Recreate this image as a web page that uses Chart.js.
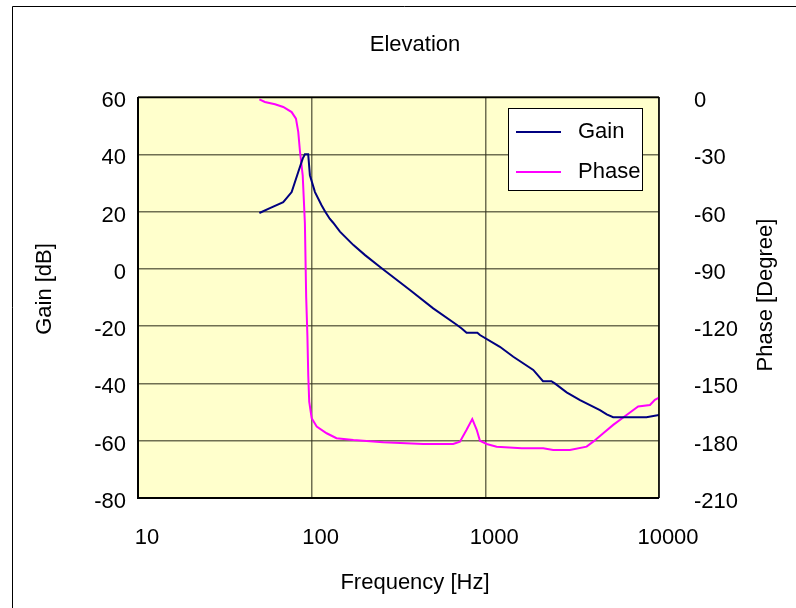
<!DOCTYPE html>
<html>
<head>
<meta charset="utf-8">
<title>Elevation</title>
<script src="https://cdn.jsdelivr.net/npm/chart.js@4.4.1/dist/chart.umd.min.js"></script>
<style>
  body { margin: 0; background: #fff; }
  canvas { display: block; }
</style>
</head>
<body>
<canvas id="myChart" width="796" height="608"></canvas>
<script>
// values
const gainFreq = [50, 57.5, 68.6, 76.7, 83.7, 88.8, 91.4, 95.5, 97.7, 104.5,
  114, 119.5, 127, 133, 145.5, 174, 203, 253, 368, 501,
  684, 731, 780, 900, 931, 1213, 1449, 1888, 2148, 2400,
  2512, 2938, 3510, 4570, 5000, 5445, 8470, 10000];
const gainDb = [19.5, 21.2, 23.3, 26.8, 33.8, 38.5, 40, 40, 32.7, 26.8,
  22.2, 20, 17.5, 16.1, 13, 8.3, 4.8, 0.2, -7.4, -13.8,
  -19.5, -20.8, -22.3, -22.3, -23.1, -27.2, -30.7, -35.3, -39.2, -39.2,
  -40, -43.1, -45.8, -49.3, -50.8, -51.8, -51.8, -51];

const phaseFreq = [50, 53.8, 61.5, 68.6, 76.7, 81.2, 83.7, 85.7, 88.8, 91.4,
  93, 94.5, 95.6, 96.8, 100, 106.9, 122, 139, 174, 258,
  439, 653, 714, 780, 841, 892, 931, 1018, 1162, 1619,
  2154, 2459, 3069, 3830, 4180, 4775, 5450, 6505, 7586, 8870,
  9470, 10000];
const phaseDeg = [-1.2, -2.6, -3.8, -5.2, -7.9, -11.3, -18.3, -28.8, -41, -66,
  -105, -125, -146, -159.5, -168.2, -172.6, -176.1, -178.7, -179.6, -180.8,
  -181.7, -181.7, -180.5, -174.3, -168.7, -174.3, -180, -181.7, -183.1, -183.9,
  -183.9, -184.8, -184.8, -183.1, -180.5, -176.1, -171.7, -166.5, -162.1, -161.3,
  -158.6, -157.5];

const freqTicks = [10, 100, 1000, 10000];

const FONT = "'Liberation Sans', Arial, sans-serif";
Chart.defaults.color = '#000';
Chart.defaults.font.family = FONT;
Chart.defaults.font.size = 22;

const gridColor = 'rgba(50,50,30,0.7)';

let toPoints = (xs, ys) => xs.map((x, i) => ({ x: x, y: ys[i] }));

// background, frame, legend box and titles
const decor = {
  id: 'decor',
  beforeDraw(chart) {
    const c = chart.ctx;
    const a = chart.chartArea;
    c.save();
    c.fillStyle = '#fff';
    c.fillRect(0, 0, chart.width, chart.height);
    c.strokeStyle = '#000';
    c.lineWidth = 1;
    c.beginPath();
    c.moveTo(12.5, chart.height);
    c.lineTo(12.5, 6.5);
    c.lineTo(chart.width, 6.5);
    c.stroke();
    c.fillStyle = '#FFFFCC';
    c.fillRect(a.left, a.top, a.right - a.left, a.bottom - a.top);
    c.restore();
  },
  afterDatasetsDraw(chart) {
    const c = chart.ctx;
    const a = chart.chartArea;
    c.save();
    c.strokeStyle = '#000';
    c.lineWidth = 1.5;
    c.beginPath();
    c.moveTo(a.left, a.top + 0.5);
    c.lineTo(a.right, a.top + 0.5);
    c.moveTo(a.right, a.top);
    c.lineTo(a.right, a.bottom);
    c.stroke();
    c.lineWidth = 2;
    c.beginPath();
    c.moveTo(a.left, a.top);
    c.lineTo(a.left, a.bottom);
    c.lineTo(a.right, a.bottom);
    c.stroke();

    // legend
    c.fillStyle = '#fff';
    c.fillRect(508, 108, 134, 82);
    c.lineWidth = 1;
    c.strokeRect(508.5, 108.5, 134, 82);
    c.font = '22px ' + FONT;
    c.textBaseline = 'middle';
    c.textAlign = 'left';
    chart.data.datasets.forEach((ds, i) => {
      const y = 132 + i * 40;
      c.strokeStyle = ds.borderColor;
      c.lineWidth = 2;
      c.beginPath();
      c.moveTo(516, y);
      c.lineTo(561, y);
      c.stroke();
      c.fillStyle = '#000';
      c.fillText(ds.label, 578, y);
    });

    // titles
    c.textAlign = 'center';
    c.fillText('Elevation', 415, 45);
    c.fillText('Frequency [Hz]', 415, 583);
    c.translate(45, 289);
    c.rotate(-Math.PI / 2);
    c.fillText('Gain [dB]', 0, 0);
    c.rotate(Math.PI / 2);
    c.translate(766 - 45, 295 - 289);
    c.rotate(-Math.PI / 2);
    c.fillText('Phase [Degree]', 0, 0);
    c.restore();
  }
};

let ctx = document.getElementById('myChart').getContext('2d');
let chart = new Chart(ctx, {
  type: 'line',
  data: {
    datasets: [
      {
        label: 'Gain',
        data: toPoints(gainFreq, gainDb),
        borderColor: '#000080',
        borderWidth: 2,
        pointRadius: 0,
        tension: 0,
        yAxisID: 'y'
      },
      {
        label: 'Phase',
        data: toPoints(phaseFreq, phaseDeg),
        borderColor: '#FF00FF',
        borderWidth: 2,
        pointRadius: 0,
        tension: 0,
        yAxisID: 'y1'
      }
    ]
  },
  options: {
    responsive: false,
    animation: false,
    layout: { padding: { top: 97, left: 0, right: 0, bottom: 0 } },
    plugins: {
      legend: { display: false },
      title: { display: false },
      tooltip: { enabled: false }
    },
    scales: {
      x: {
        type: 'logarithmic',
        position: 'bottom',
        min: 10,
        max: 10000,
        afterBuildTicks: scale => {
          scale.ticks = freqTicks.map(v => ({ value: v, major: true }));
        },
        afterFit: scale => { scale.height = 110; },
        ticks: {
          padding: 27,
          labelOffset: 9,
          maxRotation: 0,
          autoSkip: false,
          callback: value => String(value)
        },
        grid: { color: gridColor, lineWidth: 1.5, drawTicks: false },
        border: { display: false }
      },
      y: {
        position: 'left',
        min: -80,
        max: 60,
        afterFit: scale => { scale.width = 138; },
        ticks: { stepSize: 20, padding: 12, labelOffset: 4 },
        grid: { color: gridColor, lineWidth: 1.5, drawTicks: false },
        border: { display: false }
      },
      y1: {
        position: 'right',
        min: -210,
        max: 0,
        afterFit: scale => { scale.width = 137; },
        ticks: { stepSize: 30, padding: 27, labelOffset: 4 },
        grid: { display: false },
        border: { display: false }
      }
    }
  },
  plugins: [decor]
});
</script>
</body>
</html>
